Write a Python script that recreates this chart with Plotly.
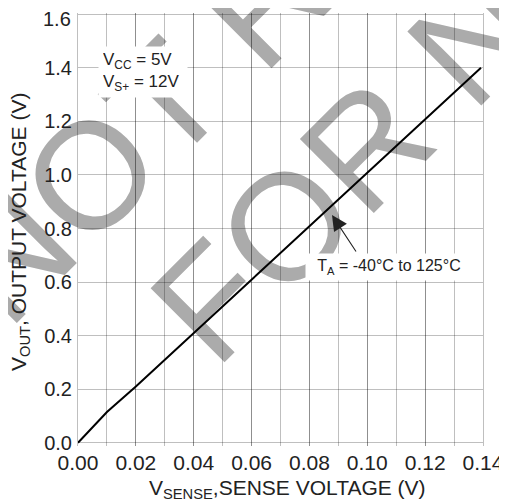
import math
import plotly.graph_objects as go

# ---------------- data ----------------
v_sense = [0.0, 0.01, 0.02, 0.04, 0.06, 0.10, 0.1393]
v_out = [0.0, 0.115, 0.21, 0.41, 0.61, 1.01, 1.40]

x_tickvals = [0.00, 0.02, 0.04, 0.06, 0.08, 0.10, 0.12, 0.14]
x_ticktext = ["0.00", "0.02", "0.04", "0.06", "0.08", "0.10", "0.12", "0.14"]
y_tickvals = [0.0, 0.2, 0.4, 0.6, 0.8, 1.0, 1.2, 1.4, 1.6]
y_ticktext = ["0.0", "0.2", "0.4", "0.6", "0.8", "1.0", "1.2", "1.4", "1.6"]

cond_text = "V<sub>CC</sub> = 5V<br>V<sub>S+</sub> = 12V"
temp_text = "T<sub>A</sub> = -40°C to 125°C"
x_title = "V<sub>SENSE</sub>,SENSE VOLTAGE (V)"
y_title = "V<sub>OUT</sub>, OUTPUT VOLTAGE (V)"
watermark_lines = ["NOT RECOMMENDED", "FOR NEW DESIGNS"]

# ---------------- layout geometry (pixels) ----------------
OFF = 8                      # page body margin
W, H = 507, 504
ML, MT = 70, 5
PW, PH = 405, 433
MR, MB = W - ML - PW, H - MT - PH


def px(xs):
    """screen x pixel -> paper x"""
    return (xs - OFF - ML) / PW


def py(ys):
    """screen y pixel -> paper y"""
    return (H - MB - (ys - OFF)) / PH


FONT = "Liberation Sans, Arial, sans-serif"
GRID = "rgba(0,0,0,0.25)"
TXT = "#222222"

fig = go.Figure()
fig.add_trace(go.Scatter(
    x=v_sense, y=v_out, mode="lines",
    line=dict(color="black", width=2),
    hoverinfo="skip", showlegend=False,
))

# watermark (below grid and data)
wm_centers = [(521, -276), (679, -187)]
for txt, (cx, cy) in zip(watermark_lines, wm_centers):
    fig.add_shape(
        type="rect", xref="paper", yref="paper",
        x0=px(cx) - 0.001, x1=px(cx) + 0.001,
        y0=py(cy) - 0.001, y1=py(cy) + 0.001,
        line=dict(width=0), fillcolor="rgba(0,0,0,0)",
        layer="below",
        label=dict(text=txt, textangle=-45,
                   textposition="middle center",
                   font=dict(family=FONT, size=152, color="#ababab")),
    )

# the top tick label sits just below its gridline (as in the reference)
axis_tick_text = list(y_ticktext[:-1]) + [""]

annotations = [
    # arrow
    dict(xref="paper", yref="paper", x=px(332), y=py(215), text="",
         showarrow=True, arrowhead=2, arrowsize=2.8, arrowwidth=1.1,
         arrowcolor="#222222", ax=25, ay=38, standoff=0, startstandoff=0),
    dict(xref="paper", yref="paper", x=px(389), y=py(267), text=temp_text,
         showarrow=False, bgcolor="white", width=160, height=20, borderpad=3,
         font=dict(family=FONT, size=16, color=TXT),
         xanchor="center", yanchor="middle"),
    dict(xref="paper", yref="paper", x=px(143), y=py(72), text=cond_text,
         showarrow=False, bgcolor="white", width=80, height=42, borderpad=4,
         align="left", font=dict(family=FONT, size=17, color=TXT),
         xanchor="center", yanchor="middle"),
    dict(xref="paper", yref="paper", x=px(287), y=py(489), text=x_title,
         showarrow=False, font=dict(family=FONT, size=21, color=TXT),
         xanchor="center", yanchor="middle"),
    dict(xref="paper", yref="paper", x=px(20), y=py(232), text=y_title,
         showarrow=False, textangle=-90,
         font=dict(family=FONT, size=21, color=TXT),
         xanchor="center", yanchor="middle"),
    dict(xref="paper", yref="paper", x=px(72), y=py(19), text=y_ticktext[-1],
         showarrow=False, font=dict(family=FONT, size=20, color=TXT),
         xanchor="right", yanchor="middle", borderpad=0),
]

fig.update_layout(
    width=W, height=H,
    margin=dict(l=ML, r=MR, t=MT, b=MB, autoexpand=False),
    paper_bgcolor="white", plot_bgcolor="white",
    showlegend=False,
    annotations=annotations,
    font=dict(family=FONT, color=TXT),
)

fig.update_xaxes(
    range=[0, 0.14], tickvals=x_tickvals, ticktext=x_ticktext,
    showgrid=True, gridcolor=GRID, gridwidth=1,
    minor=dict(dtick=0.01, tick0=0, showgrid=True, gridcolor=GRID, gridwidth=1),
    zeroline=False, showline=False, ticks="", automargin=False,
    tickfont=dict(family=FONT, size=21, color=TXT),
    ticklabelstandoff=2, ticklabeloverflow="allow",
)
fig.update_yaxes(
    range=[-0.012, 1.6045], tickvals=y_tickvals, ticktext=axis_tick_text,
    showgrid=True, gridcolor=GRID, gridwidth=1,
    zeroline=False, showline=True, mirror=True, linecolor=GRID, linewidth=1,
    ticks="", automargin=False,
    tickfont=dict(family=FONT, size=20, color=TXT),
    ticklabelstandoff=1, ticklabeloverflow="allow",
)

fig.write_html("out.html")
